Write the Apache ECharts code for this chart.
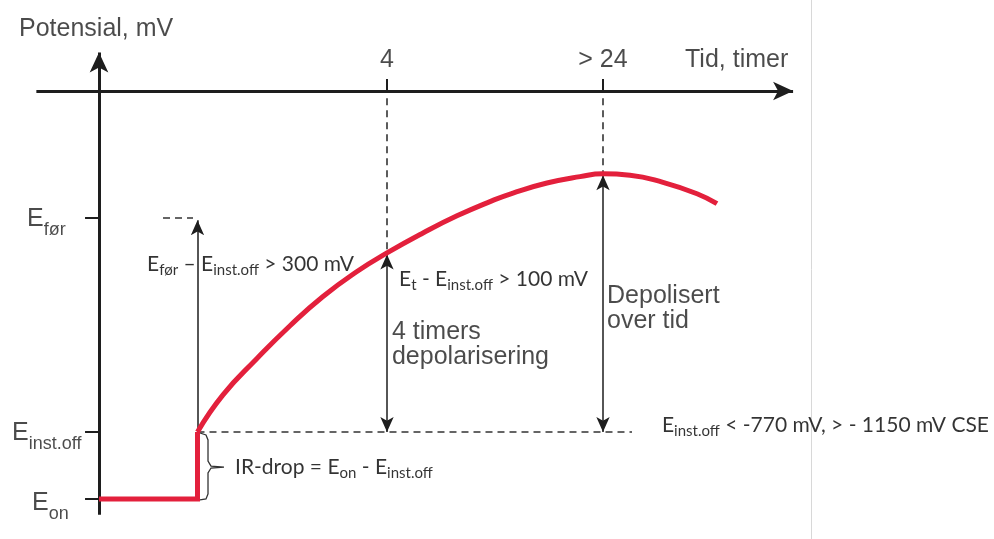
<!DOCTYPE html>
<html><head><meta charset="utf-8">
<script src="https://cdn.jsdelivr.net/npm/echarts@6/dist/echarts.min.js"></script>
<style>html,body{margin:0;padding:0;background:#fff}#c{width:994px;height:539px}</style>
</head><body><div id="c"></div>
<script>
// ---- schematic data (x: schematic time units, y: potential mV) ----
const stepT = [0, 1.368, 1.368];
const stepMv = [-894, -894, -800];
const curveT = [1.368, 1.722, 2.194, 2.653, 3.111, 3.583, 4.0, 4.5, 4.972, 5.431, 5.75, 6.222, 6.681, 7.0, 7.375, 7.833, 8.306, 8.583];
const curveMv = [-800, -748, -697, -651, -610, -575, -549, -521, -497, -477, -465, -451, -442, -438, -440, -450, -466, -480];
const xTickValues = [4, 7];
const xTickLabels = ['4', '> 24'];
const yTickValues = [-500, -800, -894];
const yTickSubs = ['før', 'inst.off', 'on'];
const xAxisLevel = -322;
const xAxisRange = [-0.87, 9.64];
const yAxisRange = [-916, -268];
const eFor = -500, eInstOff = -800;
const eT = -549, ePeak = -438;
const hDashEnd = 7.403;
const shortDash = [0.889, 1.306];
const braceT = [1.403, 1.486, 1.514, 1.514, 1.556, 1.736, 1.556, 1.514, 1.514, 1.486, 1.403];
const braceMv = [-801.4, -804.2, -811.2, -840.7, -847.7, -849.1, -850.5, -857.5, -886.9, -893.9, -895.3];

const DARK = '#1e1e1e';
const RED = '#e3203c';
const HELV = 'Liberation Sans';
const CAL = 'Lato';

const zip = (a, b) => a.map((v, i) => [v, b[i]]);

const richHelv = {
  m: {fontFamily: HELV, fontSize: 25, lineHeight: 40, color: DARK, verticalAlign: 'middle'},
  s: {fontFamily: HELV, fontSize: 18, lineHeight: 18, padding: [22, 0, 0, 0], color: DARK, verticalAlign: 'middle'}
};
const richCal = {
  m: {fontFamily: CAL, fontSize: 21, lineHeight: 26, color: '#000', verticalAlign: 'middle'},
  s: {fontFamily: CAL, fontSize: 15, lineHeight: 15, padding: [11, 0, 0, 0], color: '#000', verticalAlign: 'middle'}
};

function lab(t, v, text, opts) {
  return {
    value: [t, v],
    label: Object.assign({
      show: true, position: 'inside', formatter: text, align: 'left', verticalAlign: 'middle',
      fontFamily: HELV, fontSize: 25, color: DARK
    }, opts || {})
  };
}

const labels = [
  lab(-1.111, -235.4, 'Potensial, mV'),
  lab(8.139, -278.9, 'Tid, timer'),
  ...xTickValues.map((t, i) => lab(t, -278, xTickLabels[i], {align: 'center'})),
  lab(-1.0, yTickValues[0] - 2, '{m|E}{s|' + yTickSubs[0] + '}', {rich: richHelv}),
  lab(-1.208, yTickValues[1] - 2, '{m|E}{s|' + yTickSubs[1] + '}', {rich: richHelv}),
  lab(-0.931, yTickValues[2] - 6, '{m|E}{s|' + yTickSubs[2] + '}', {rich: richHelv}),
  lab(0.667, -565.4, '{m|E}{s|før}{m| – E}{s|inst.off}{m| > 300 mV}', {rich: richCal}),
  lab(4.167, -586.4, '{m|E}{s|t}{m| - E}{s|inst.off}{m| > 100 mV}', {rich: richCal}),
  lab(4.069, -676.8, '4 timers\ndepolarisering', {fontSize: 25, lineHeight: 25}),
  lab(7.056, -627.7, 'Depolisert\nover tid', {fontSize: 25, lineHeight: 25}),
  lab(1.889, -850, '{m|IR-drop = E}{s|on}{m| - E}{s|inst.off}', {rich: richCal}),
  lab(7.819, -791.1, '{m|E}{s|inst.off}{m| < -770 mV, > - 1150 mV CSE}', {rich: richCal})
];

const option = {
  animation: false,
  backgroundColor: '#fff',
  grid: {left: 0, right: 4, top: 4, bottom: 0},
  xAxis: {type: 'value', min: -1.375, max: 12.375, show: false},
  yAxis: {type: 'value', min: -950, max: -200, show: false},
  series: [
    { // image border line
      type: 'lines', coordinateSystem: 'cartesian2d', clip: false, silent: true, z: 1,
      lineStyle: {color: '#d8d8d8', width: 1, opacity: 1},
      data: [{coords: [[9.896, -194], [9.896, -950]]}]
    },
    { // axes with arrows
      type: 'lines', coordinateSystem: 'cartesian2d', silent: true, z: 3,
      symbol: ['none', 'arrow'], symbolSize: [[14, 20], [14, 20]],
      lineStyle: {color: DARK, width: 3, opacity: 1},
      data: [
        {coords: [[xAxisRange[0], xAxisLevel], [xAxisRange[1], xAxisLevel]]},
        {coords: [[0, yAxisRange[0]], [0, yAxisRange[1]]]}
      ]
    },
    { // ticks
      type: 'lines', coordinateSystem: 'cartesian2d', silent: true, z: 3,
      lineStyle: {color: DARK, width: 2, opacity: 1},
      data: [
        ...xTickValues.map(t => ({coords: [[t, xAxisLevel + 17], [t, xAxisLevel]]})),
        ...yTickValues.map(v => ({coords: [[-0.194, v], [0, v]]}))
      ]
    },
    { // dashed guides
      type: 'lines', coordinateSystem: 'cartesian2d', silent: true, z: 2,
      lineStyle: {color: '#333', width: 1.6, type: [7, 5], opacity: 1},
      data: [
        {coords: [[xTickValues[0], xAxisLevel - 10], [xTickValues[0], eT]]},
        {coords: [[xTickValues[1], xAxisLevel - 10], [xTickValues[1], ePeak]]},
        {coords: [[stepT[1], eInstOff], [hDashEnd, eInstOff]]},
        {coords: [[shortDash[0], eFor], [shortDash[1], eFor]]}
      ]
    },
    { // single arrow
      type: 'lines', coordinateSystem: 'cartesian2d', silent: true, z: 3,
      symbol: ['none', 'arrow'], symbolSize: [[10, 15], [10, 15]],
      lineStyle: {color: DARK, width: 1.5, opacity: 1},
      data: [{coords: [[stepT[1], eInstOff], [stepT[1], eFor - 3]]}]
    },
    { // double arrows
      type: 'lines', coordinateSystem: 'cartesian2d', silent: true, z: 3,
      symbol: ['arrow', 'arrow'], symbolSize: [[10, 15], [10, 15]],
      lineStyle: {color: DARK, width: 1.5, opacity: 1},
      data: [
        {coords: [[xTickValues[0], eInstOff], [xTickValues[0], eT - 2]]},
        {coords: [[xTickValues[1], eInstOff], [xTickValues[1], ePeak - 2]]}
      ]
    },
    { // brace
      type: 'lines', coordinateSystem: 'cartesian2d', polyline: true, silent: true, z: 3,
      lineStyle: {color: '#333', width: 1.3, opacity: 1},
      data: [{coords: zip(braceT, braceMv)}]
    },
    {
      type: 'line', data: zip(stepT, stepMv), showSymbol: false, symbol: 'none', silent: true, z: 4,
      lineStyle: {color: RED, width: 5, join: 'miter'}
    },
    {
      type: 'line', data: zip(curveT, curveMv), smooth: 0.5, showSymbol: false, symbol: 'none', silent: true, z: 4,
      lineStyle: {color: RED, width: 5, cap: 'butt'}
    },
    {
      type: 'scatter', symbolSize: 1, silent: true, z: 5,
      itemStyle: {color: 'rgba(0,0,0,0)'},
      data: labels
    }
  ]
};
const chart = echarts.init(document.getElementById('c'));
chart.setOption(option);
</script></body></html>
